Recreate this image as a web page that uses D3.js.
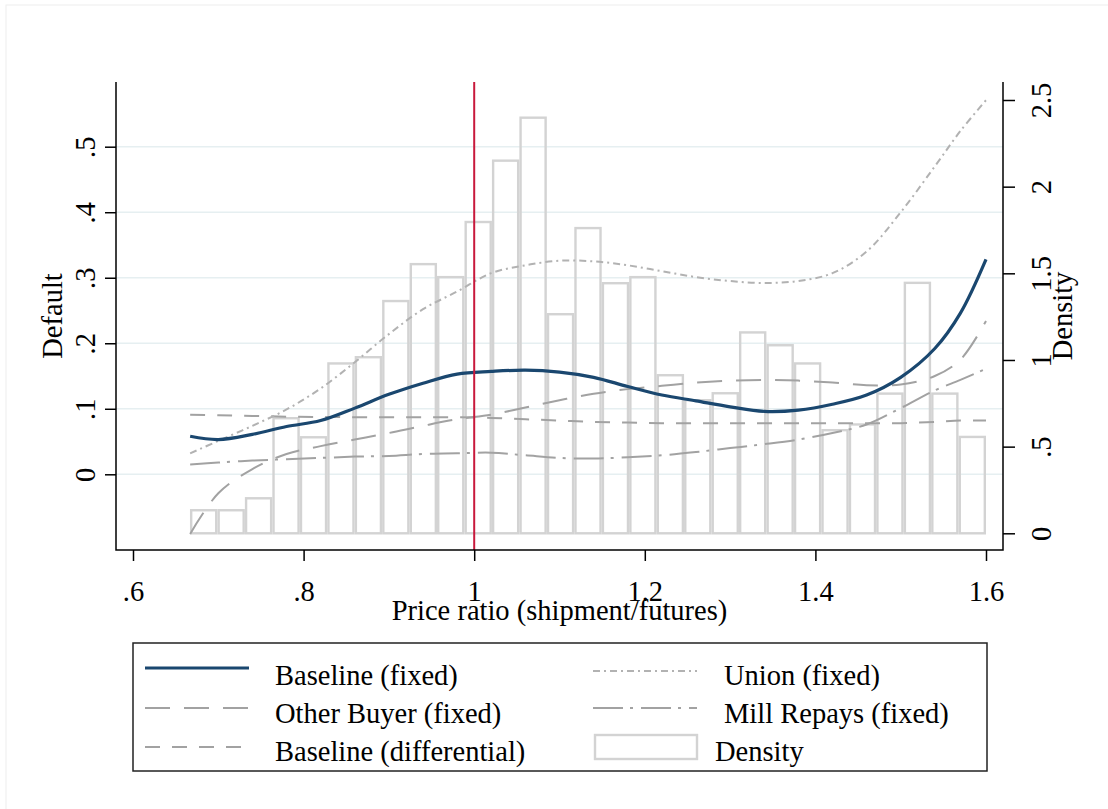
<!DOCTYPE html>
<html>
<head>
<meta charset="utf-8">
<script src="https://cdn.jsdelivr.net/npm/d3@7"></script>
<style>
  body { margin: 0; background: #fff; }
  svg { display: block; }
  text { font-family: "Liberation Serif", "DejaVu Serif", serif; fill: #000; }
</style>
</head>
<body>
<div id="chart"></div>
<script>
// price ratio grid for the fitted curves
var ratios = [0.667, 0.70, 0.74, 0.78, 0.82, 0.86, 0.90, 0.94, 0.98, 1.02, 1.06, 1.10, 1.14,
  1.18, 1.22, 1.26, 1.30, 1.34, 1.38, 1.42, 1.46, 1.50, 1.54, 1.57, 1.60];

var baselineFixed = [0.058, 0.053, 0.061, 0.073, 0.082, 0.101, 0.122, 0.139, 0.153, 0.157, 0.159, 0.156, 0.148,
  0.134, 0.121, 0.112, 0.103, 0.096, 0.098, 0.107, 0.121, 0.148, 0.192, 0.246, 0.328];
var otherBuyer = [-0.091, -0.029, 0.008, 0.031, 0.043, 0.053, 0.063, 0.074, 0.084, 0.091, 0.102, 0.113, 0.123,
  0.130, 0.135, 0.140, 0.143, 0.144, 0.143, 0.140, 0.136, 0.137, 0.150, 0.175, 0.234];
var baselineDiff = [0.091, 0.090, 0.089, 0.088, 0.0875, 0.0872, 0.087, 0.087, 0.087, 0.086, 0.084, 0.082, 0.080,
  0.079, 0.078, 0.078, 0.078, 0.078, 0.078, 0.078, 0.078, 0.078, 0.080, 0.082, 0.082];
var unionFixed = [0.032, 0.051, 0.074, 0.099, 0.131, 0.171, 0.214, 0.252, 0.279, 0.307, 0.319, 0.326, 0.325,
  0.319, 0.310, 0.301, 0.295, 0.292, 0.295, 0.307, 0.340, 0.400, 0.470, 0.524, 0.571];
var millRepays = [0.015, 0.018, 0.021, 0.023, 0.025, 0.027, 0.028, 0.031, 0.032, 0.033, 0.029, 0.025, 0.024,
  0.026, 0.029, 0.034, 0.040, 0.046, 0.053, 0.063, 0.076, 0.101, 0.128, 0.144, 0.161];

// histogram (right axis)
var binStart = 0.6668;
var binWidth = 0.03218;
var density = [0.133, 0.133, 0.202, 0.664, 0.554, 0.98, 1.016, 1.34, 1.553, 1.478, 1.796, 2.15, 2.398,
  1.264, 1.761, 1.443, 1.478, 0.912, 0.768, 0.808, 1.159, 1.085, 0.98, 0.595, 0.628, 0.806, 1.445, 0.806, 0.556];

var xTicks = [0.6, 0.8, 1, 1.2, 1.4, 1.6];
var xLabels = [".6", ".8", "1", "1.2", "1.4", "1.6"];
var leftTicks = [0, 0.1, 0.2, 0.3, 0.4, 0.5];
var leftLabels = ["0", ".1", ".2", ".3", ".4", ".5"];
var rightTicks = [0, 0.5, 1, 1.5, 2, 2.5];
var rightLabels = ["0", ".5", "1", "1.5", "2", "2.5"];
var refLine = 1;

var W = 1108, H = 809;
var plot = { left: 116, right: 1003, top: 82, bottom: 550 };
var fontSize = 28.5;

var svg = d3.select("#chart").append("svg")
  .attr("width", W)
  .attr("height", H);

svg.append("rect")
  .attr("x", 6).attr("y", 5)
  .attr("width", W).attr("height", H)
  .attr("fill", "#fff")
  .attr("stroke", "#eeeeee");

var x = d3.scaleLinear().domain([0.6, 1.6]).range([133, 986]);
var yL = d3.scaleLinear().domain([0, 0.5]).range([474.3, 146.7]);
var yR = d3.scaleLinear().domain([0, 2.5]).range([533.3, 100]);

// grid lines
svg.append("g")
  .selectAll("line")
  .data(leftTicks)
  .enter().append("line")
  .attr("x1", plot.left).attr("x2", plot.right)
  .attr("y1", function (d) { return yL(d); })
  .attr("y2", function (d) { return yL(d); })
  .attr("stroke", "#e6eff1")
  .attr("stroke-width", 1.5);

// histogram bars
svg.append("g")
  .selectAll("rect")
  .data(density)
  .enter().append("rect")
  .attr("x", function (d, i) { return x(binStart + i * binWidth) + 1.2; })
  .attr("width", function (d, i) { return x(binStart + (i + 1) * binWidth) - x(binStart + i * binWidth) - 2.4; })
  .attr("y", function (d) { return yR(d); })
  .attr("height", function (d) { return yR(0) - yR(d); })
  .attr("fill", "none")
  .attr("stroke", "#d3d3d3")
  .attr("stroke-width", 2.4);

var series = [
  { name: "Baseline (fixed)", values: baselineFixed, color: "#1a476f", width: 3.2, dash: null },
  { name: "Other Buyer (fixed)", values: otherBuyer, color: "#a2a2a2", width: 2, dash: "25,14" },
  { name: "Baseline (differential)", values: baselineDiff, color: "#a2a2a2", width: 2, dash: "15,12" },
  { name: "Union (fixed)", values: unionFixed, color: "#b2b2b2", width: 2, dash: "7,4,2,4" },
  { name: "Mill Repays (fixed)", values: millRepays, color: "#a2a2a2", width: 2, dash: "30,7,3,8" }
];

var line = d3.line()
  .x(function (d) { return x(d[0]); })
  .y(function (d) { return yL(d[1]); })
  .curve(d3.curveCatmullRom.alpha(0.5));

// draw gray ones first, navy on top
[1, 2, 4, 3, 0].forEach(function (k) {
  var s = series[k];
  svg.append("path")
    .datum(ratios.map(function (r, i) { return [r, s.values[i]]; }))
    .attr("d", line)
    .attr("fill", "none")
    .attr("stroke", s.color)
    .attr("stroke-width", s.width)
    .attr("stroke-dasharray", s.dash);
});

// reference line at ratio 1
svg.append("line")
  .attr("x1", x(refLine)).attr("x2", x(refLine))
  .attr("y1", plot.top).attr("y2", plot.bottom)
  .attr("stroke", "#c8193c")
  .attr("stroke-width", 2);

// axes
var gx = svg.append("g")
  .attr("transform", "translate(0," + plot.bottom + ")")
  .call(d3.axisBottom(x).tickValues(xTicks).tickSize(11).tickSizeOuter(0)
    .tickFormat(function (d, i) { return xLabels[i]; }));
gx.select(".domain").remove();
gx.selectAll("line").attr("stroke", "#000").attr("stroke-width", 1.5);
gx.selectAll("text")
  .attr("y", 51).attr("dy", 0)
  .style("font-size", fontSize + "px")
  .style("font-family", "Liberation Serif");

var gl = svg.append("g")
  .attr("transform", "translate(" + plot.left + ",0)")
  .call(d3.axisLeft(yL).tickValues(leftTicks).tickSize(11).tickSizeOuter(0)
    .tickFormat(function (d, i) { return leftLabels[i]; }));
gl.select(".domain").remove();
gl.selectAll("line").attr("stroke", "#000").attr("stroke-width", 1.5);
gl.selectAll("text")
  .attr("transform", "rotate(-90)")
  .attr("x", 0).attr("y", -21).attr("dy", 0)
  .attr("text-anchor", "middle")
  .style("font-size", fontSize + "px")
  .style("font-family", "Liberation Serif");

var gr = svg.append("g")
  .attr("transform", "translate(" + plot.right + ",0)")
  .call(d3.axisRight(yR).tickValues(rightTicks).tickSize(12).tickSizeOuter(0)
    .tickFormat(function (d, i) { return rightLabels[i]; }));
gr.select(".domain").remove();
gr.selectAll("line").attr("stroke", "#000").attr("stroke-width", 1.5);
gr.selectAll("text")
  .attr("transform", "rotate(-90)")
  .attr("x", 0).attr("y", 48).attr("dy", 0)
  .attr("text-anchor", "middle")
  .style("font-size", fontSize + "px")
  .style("font-family", "Liberation Serif");

// axis lines
svg.append("path")
  .attr("d", "M" + plot.left + "," + plot.top + "V" + plot.bottom + "H" + plot.right + "V" + plot.top)
  .attr("fill", "none")
  .attr("stroke", "#000")
  .attr("stroke-width", 1.5);

// titles
svg.append("text")
  .attr("x", (plot.left + plot.right) / 2).attr("y", 620)
  .attr("text-anchor", "middle")
  .style("font-size", fontSize + "px")
  .text("Price ratio (shipment/futures)");

svg.append("text")
  .attr("transform", "translate(62," + (plot.top + plot.bottom) / 2 + ") rotate(-90)")
  .attr("text-anchor", "middle")
  .style("font-size", fontSize + "px")
  .text("Default");

svg.append("text")
  .attr("transform", "translate(1072," + (plot.top + plot.bottom) / 2 + ") rotate(-90)")
  .attr("text-anchor", "middle")
  .style("font-size", fontSize + "px")
  .text("Density");

// legend
var legend = svg.append("g");
legend.append("rect")
  .attr("x", 133).attr("y", 643)
  .attr("width", 854).attr("height", 128)
  .attr("fill", "#fff")
  .attr("stroke", "#222")
  .attr("stroke-width", 1.5);

var legendItems = [
  { s: series[0], x: 145, y: 668, tx: 275, ty: 685 },
  { s: series[1], x: 145, y: 708, tx: 275, ty: 723 },
  { s: series[2], x: 145, y: 747, tx: 275, ty: 761 },
  { s: series[3], x: 593, y: 671, tx: 724, ty: 685 },
  { s: series[4], x: 593, y: 708, tx: 724, ty: 723 }
];
legendItems.forEach(function (it) {
  legend.append("line")
    .attr("x1", it.x).attr("x2", it.x + 104)
    .attr("y1", it.y).attr("y2", it.y)
    .attr("stroke", it.s.color)
    .attr("stroke-width", it.s.width)
    .attr("stroke-dasharray", it.s.dash);
  legend.append("text")
    .attr("x", it.tx).attr("y", it.ty)
    .style("font-size", fontSize + "px")
    .text(it.s.name);
});
legend.append("rect")
  .attr("x", 595).attr("y", 735)
  .attr("width", 102).attr("height", 24)
  .attr("fill", "none")
  .attr("stroke", "#d3d3d3")
  .attr("stroke-width", 2.4);
legend.append("text")
  .attr("x", 715).attr("y", 761)
  .style("font-size", fontSize + "px")
  .text("Density");
</script>
</body>
</html>
